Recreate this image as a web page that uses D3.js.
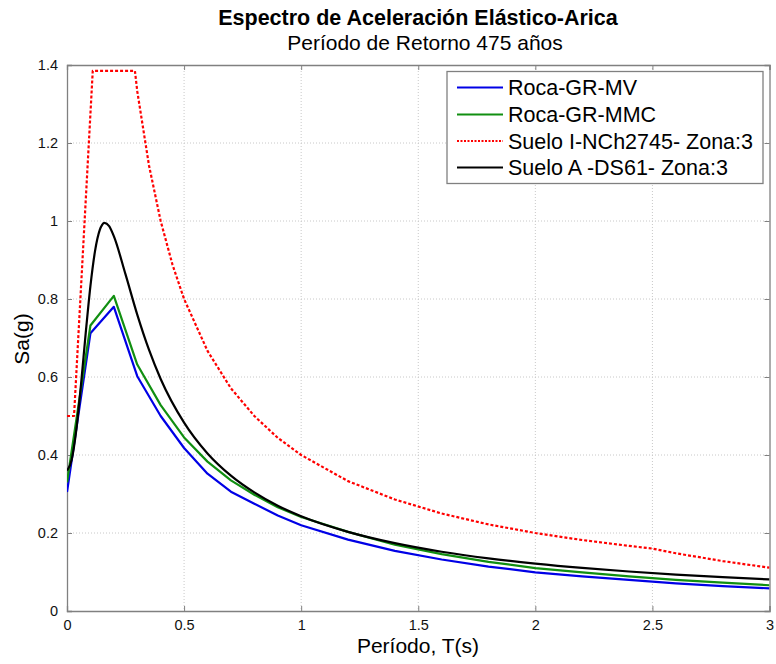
<!DOCTYPE html>
<html><head><meta charset="utf-8">
<script src="https://cdn.jsdelivr.net/npm/d3@7"></script>
<style>body{margin:0;background:#fff;} text{font-family:"Liberation Sans",Arial,sans-serif;}</style>
</head><body>
<svg id="c" width="776" height="664"></svg>
<script>
const titleText = "Espectro de Aceleración Elástico-Arica";
const subtitleText = "Período de Retorno 475 años";
const xLabel = "Período, T(s)";
const yLabel = "Sa(g)";
const xTicks = [0, 0.5, 1, 1.5, 2, 2.5, 3];
const yTicks = [0, 0.2, 0.4, 0.6, 0.8, 1, 1.2, 1.4];

const tRocaMV = [0, 0.1, 0.2, 0.3, 0.4, 0.5, 0.6, 0.7, 0.8, 0.9, 1.0, 1.2, 1.4, 1.6, 1.8, 2.0, 2.2, 2.4, 2.6, 2.8, 3.0];
const saRocaMV = [0.305, 0.712, 0.780, 0.602, 0.500, 0.418, 0.352, 0.306, 0.275, 0.245, 0.220, 0.183, 0.154, 0.132, 0.114, 0.099, 0.089, 0.080, 0.071, 0.064, 0.058];

const tRocaMMC = [0, 0.1, 0.2, 0.3, 0.4, 0.5, 0.6, 0.7, 0.8, 0.9, 1.0, 1.2, 1.4, 1.6, 1.8, 2.0, 2.2, 2.4, 2.6, 2.8, 3.0];
const saRocaMMC = [0.330, 0.732, 0.808, 0.632, 0.528, 0.445, 0.383, 0.335, 0.298, 0.266, 0.241, 0.203, 0.170, 0.146, 0.126, 0.110, 0.099, 0.089, 0.080, 0.073, 0.066];

const tNCh = [0, 0.03, 0.11, 0.29, 0.3, 0.35, 0.4, 0.45, 0.5, 0.6, 0.7, 0.8, 0.9, 1.0, 1.2, 1.4, 1.6, 1.8, 2.0, 2.2, 2.4, 2.5, 2.6, 2.8, 3.0];
const saNCh = [0.5, 0.5, 1.385, 1.385, 1.333, 1.143, 1.0, 0.889, 0.8, 0.667, 0.571, 0.5, 0.444, 0.4, 0.333, 0.286, 0.25, 0.222, 0.2, 0.182, 0.167, 0.16, 0.148, 0.128, 0.111];

const tDS61 = [0, 0.02, 0.04, 0.06, 0.08, 0.10, 0.12, 0.14, 0.15, 0.16, 0.18, 0.20, 0.25, 0.30, 0.35, 0.40, 0.50, 0.60, 0.70, 0.80, 0.90, 1.0, 1.2, 1.4, 1.6, 1.8, 2.0, 2.2, 2.4, 2.6, 2.8, 3.0];
const saDS61 = [0.360, 0.388, 0.466, 0.582, 0.713, 0.833, 0.924, 0.977, 0.990, 0.995, 0.987, 0.961, 0.863, 0.760, 0.670, 0.595, 0.483, 0.404, 0.347, 0.304, 0.270, 0.243, 0.203, 0.174, 0.152, 0.135, 0.1216, 0.1105, 0.1013, 0.0935, 0.0868, 0.081];

const seriesNames = ["Roca-GR-MV", "Roca-GR-MMC", "Suelo I-NCh2745- Zona:3", "Suelo A -DS61- Zona:3"];
const seriesColors = ["#0000e6", "#118f11", "#ff0000", "#000000"];

const series = [
  {name: seriesNames[0], t: tRocaMV, v: saRocaMV, color: seriesColors[0], dash: null},
  {name: seriesNames[1], t: tRocaMMC, v: saRocaMMC, color: seriesColors[1], dash: null},
  {name: seriesNames[2], t: tNCh, v: saNCh, color: seriesColors[2], dash: "3,2"},
  {name: seriesNames[3], t: tDS61, v: saDS61, color: seriesColors[3], dash: null}
];

const svg = d3.select("#c");
const L = 67, R = 769.5, T = 65, B = 611;
const x = d3.scaleLinear().domain([0, 3]).range([L, R]);
const y = d3.scaleLinear().domain([0, 1.4]).range([B, T]);

// grid
const g = svg.append("g");
g.selectAll("line.vx").data(xTicks.slice(1, -1)).enter().append("line")
  .attr("x1", d => x(d)).attr("x2", d => x(d)).attr("y1", T).attr("y2", B)
  .attr("stroke", "#c8c8c8").attr("stroke-width", 1).attr("stroke-dasharray", "1,2");
g.selectAll("line.hy").data(yTicks.slice(1, -1)).enter().append("line")
  .attr("x1", L).attr("x2", R).attr("y1", d => y(d)).attr("y2", d => y(d))
  .attr("stroke", "#c8c8c8").attr("stroke-width", 1).attr("stroke-dasharray", "1,2");

// axes
const xAxis = d3.axisBottom(x).tickValues(xTicks).tickSize(-5).tickPadding(9).tickFormat(d3.format("~g"));
const yAxis = d3.axisLeft(y).tickValues(yTicks).tickSize(-5).tickPadding(9).tickFormat(d3.format("~g"));
const gx = svg.append("g").attr("transform", `translate(0,${B})`).call(xAxis);
const gy = svg.append("g").attr("transform", `translate(${L},0)`).call(yAxis);
const gxTop = svg.append("g").attr("transform", `translate(0,${T})`).call(d3.axisTop(x).tickValues(xTicks).tickSize(-5).tickFormat(""));
const gyR = svg.append("g").attr("transform", `translate(${R},0)`).call(d3.axisRight(y).tickValues(yTicks).tickSize(-5).tickFormat(""));
[gx, gy, gxTop, gyR].forEach(a => {
  a.selectAll("path").attr("stroke", "#808080").attr("stroke-width", 1.3);
  a.selectAll("line").attr("stroke", "#808080");
  a.selectAll("text").attr("font-size", 14.5).attr("fill", "#111")
    .attr("font-family", "'Liberation Sans', Arial, sans-serif");
});

// lines
svg.append("clipPath").attr("id", "clp").append("rect")
  .attr("x", L).attr("y", T - 2).attr("width", R - L).attr("height", B - T + 2);
const line = d3.line().x(d => x(d[0])).y(d => y(d[1]));
const curve = d3.line().x(d => x(d[0])).y(d => y(d[1])).curve(d3.curveMonotoneX);
series.forEach((s, i) => {
  const pts = s.t.map((t, k) => [t, s.v[k]]);
  svg.append("path").attr("d", (i === 3 ? curve : line)(pts))
    .attr("fill", "none").attr("stroke", s.color).attr("stroke-width", 2.2)
    .attr("stroke-dasharray", s.dash).attr("clip-path", "url(#clp)")
    .attr("stroke-linejoin", "round");
});

// legend
const lg = svg.append("g");
lg.append("rect").attr("x", 447).attr("y", 71.5).attr("width", 316).attr("height", 112)
  .attr("fill", "#fff").attr("stroke", "#808080").attr("stroke-width", 1.3);
const rows = [87.5, 114.5, 141, 167.5];
series.forEach((s, i) => {
  lg.append("line").attr("x1", 457).attr("x2", 503).attr("y1", rows[i]).attr("y2", rows[i])
    .attr("stroke", s.color).attr("stroke-width", 2).attr("stroke-dasharray", s.dash ? "2,1.5" : null);
  lg.append("text").attr("x", 508).attr("y", rows[i]).attr("dy", "0.36em")
    .attr("font-size", 21.5).attr("fill", "#000").text(s.name);
});

// titles
svg.append("text").attr("x", 418).attr("y", 25).attr("text-anchor", "middle")
  .attr("font-size", 21.5).attr("font-weight", "bold").text(titleText);
svg.append("text").attr("x", 425).attr("y", 50).attr("text-anchor", "middle")
  .attr("font-size", 21).text(subtitleText);
svg.append("text").attr("x", 418).attr("y", 653).attr("text-anchor", "middle")
  .attr("font-size", 21).text(xLabel);
svg.append("text").attr("transform", "translate(29,339) rotate(-90)").attr("text-anchor", "middle")
  .attr("font-size", 21).text(yLabel);
</script>
</body></html>
